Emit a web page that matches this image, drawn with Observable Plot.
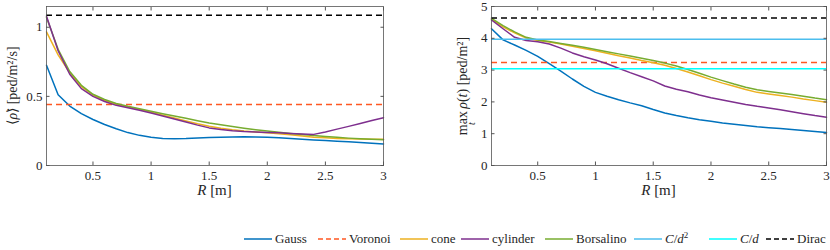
<!DOCTYPE html>
<html><head><meta charset="utf-8">
<script src="https://cdn.jsdelivr.net/npm/d3@7"></script>
<script src="https://cdn.jsdelivr.net/npm/@observablehq/plot@0.6"></script>
<style>
body{margin:0;background:#fff;}
#wrap{position:relative;width:830px;height:250px;font-family:"Liberation Serif","Times New Roman",serif;color:#262626;overflow:hidden;}
.panel{position:absolute;top:0;}
#legend{position:absolute;top:229px;left:0;width:830px;height:20px;font-size:13px;}
.item{position:absolute;top:0;height:20px;display:flex;align-items:center;white-space:nowrap;}
.item svg{margin-right:3px;}
</style></head><body>
<div id="wrap"><div id="left" class="panel" style="left:0"></div><div id="right" class="panel" style="left:415px"></div><div id="legend"></div></div>
<script>
const R = [0.1,0.2,0.3,0.4,0.5,0.6,0.7,0.8,0.9,1.0,1.1,1.2,1.3,1.4,1.5,1.6,1.7,1.8,1.9,2.0,2.1,2.2,2.3,2.4,2.5,2.6,2.7,2.8,2.9,3.0];

// Left panel: <rho dot>
const gaussL = [0.725,0.512,0.43,0.375,0.333,0.297,0.266,0.238,0.218,0.204,0.196,0.193,0.195,0.199,0.202,0.205,0.207,0.208,0.207,0.205,0.2,0.195,0.19,0.185,0.181,0.176,0.171,0.166,0.161,0.155];
const coneL = [0.966,0.8,0.67,0.57,0.51,0.47,0.443,0.423,0.405,0.386,0.364,0.343,0.322,0.302,0.284,0.27,0.259,0.25,0.243,0.237,0.23,0.222,0.213,0.205,0.2,0.196,0.193,0.191,0.19,0.19];
const cylinderL = [1.08,0.83,0.66,0.556,0.5,0.463,0.435,0.418,0.4,0.38,0.358,0.336,0.314,0.292,0.272,0.26,0.252,0.246,0.242,0.239,0.236,0.232,0.228,0.225,0.243,0.263,0.283,0.304,0.325,0.346];
const borsalinoL = [1.07,0.84,0.68,0.58,0.515,0.477,0.448,0.428,0.41,0.392,0.375,0.358,0.341,0.324,0.307,0.294,0.282,0.27,0.259,0.249,0.24,0.232,0.224,0.217,0.21,0.204,0.198,0.193,0.189,0.186];
const voronoiL = 0.442;
const diracL = 1.087;

// Right panel: max_t rho(t)
const gaussR = [4.3,3.95,3.79,3.62,3.43,3.2,2.97,2.72,2.49,2.3,2.18,2.07,1.97,1.88,1.76,1.65,1.57,1.5,1.44,1.39,1.34,1.3,1.26,1.22,1.19,1.16,1.13,1.1,1.07,1.04];
const coneR = [4.6,4.36,4.17,4.01,3.93,3.88,3.82,3.75,3.68,3.61,3.53,3.45,3.38,3.3,3.23,3.15,3.05,2.94,2.82,2.7,2.59,2.49,2.39,2.3,2.25,2.2,2.15,2.09,2.04,1.99];
const cylinderR = [4.58,4.3,4.03,3.93,3.89,3.82,3.69,3.54,3.42,3.32,3.2,3.06,2.92,2.79,2.66,2.5,2.4,2.32,2.22,2.13,2.06,1.99,1.92,1.86,1.81,1.75,1.69,1.63,1.57,1.52];
const borsalinoR = [4.63,4.4,4.2,4.03,3.95,3.9,3.84,3.78,3.72,3.65,3.58,3.51,3.44,3.37,3.3,3.22,3.13,3.02,2.9,2.78,2.67,2.56,2.46,2.38,2.33,2.28,2.23,2.18,2.12,2.07];
const voronoiR = 3.24;
const cd2R = 3.97;
const cdR = 3.04;
const diracR = 4.64;

const xTicks = [0.5,1,1.5,2,2.5,3];
const yTicksL = [0,0.5,1];
const yTicksR = [0,1,2,3,4,5];

const colors = {Gauss:"#0072BD", Voronoi:"#FF5722", cone:"#EDB120", cylinder:"#7E2F8E", Borsalino:"#77AC30", Cd2:"#4DBEEE", Cd:"#00FFFF", Dirac:"#000000"};
const frameColor = "#555";
const dash = "6,4";
const serif = "'Liberation Serif','Times New Roman',serif";

function rows(arr){ return R.map((r,i)=>({R:r, v:arr[i]})); }

const tk = 3.5;
function axes(yTicks, yFmt){
  return [
    Plot.frame({stroke: frameColor, strokeWidth: 0.8}),
    Plot.axisX(xTicks, {tickSize: 0, tickPadding: 5, tickFormat: d => String(d), label: null, fill: "#262626"}),
    Plot.axisX(xTicks, {tickSize: tk, dy: -tk, tickFormat: () => "", label: null, stroke: frameColor}),
    Plot.axisX(xTicks, {anchor: "top", tickSize: tk, dy: tk, tickFormat: () => "", label: null, stroke: frameColor}),
    Plot.axisY(yTicks, {tickSize: 0, tickPadding: 4, tickFormat: yFmt, label: null, fill: "#262626"}),
    Plot.axisY(yTicks, {tickSize: tk, dx: tk, tickFormat: () => "", label: null, stroke: frameColor}),
    Plot.axisY(yTicks, {anchor: "right", tickSize: tk, dx: -tk, tickFormat: () => "", label: null, stroke: frameColor})
  ];
}
const style = {fontFamily: serif, fontSize: "13px", color: "#262626", background: "white", overflow: "visible"};
const lw = 1.5;

const left = Plot.plot({
  width: 415, height: 210,
  marginLeft: 46, marginRight: 32, marginTop: 6, marginBottom: 45,
  x: {domain: [0.1, 3]},
  y: {domain: [0, 1.15]},
  style,
  marks: [
    Plot.line(rows(gaussL), {x: "R", y: "v", stroke: colors.Gauss, strokeWidth: lw}),
    Plot.ruleY([voronoiL], {stroke: colors.Voronoi, strokeWidth: lw, strokeDasharray: dash}),
    Plot.line(rows(coneL), {x: "R", y: "v", stroke: colors.cone, strokeWidth: lw}),
    Plot.line(rows(borsalinoL), {x: "R", y: "v", stroke: colors.Borsalino, strokeWidth: lw}),
    Plot.line(rows(cylinderL), {x: "R", y: "v", stroke: colors.cylinder, strokeWidth: lw}),
    Plot.ruleY([diracL], {stroke: colors.Dirac, strokeWidth: lw, strokeDasharray: dash}),
    ...axes(yTicksL, d => String(d))
  ]
});

const right = Plot.plot({
  width: 415, height: 210,
  marginLeft: 76, marginRight: 4, marginTop: 6, marginBottom: 45,
  x: {domain: [0.1, 3]},
  y: {domain: [0, 5]},
  style,
  marks: [
    Plot.line(rows(gaussR), {x: "R", y: "v", stroke: colors.Gauss, strokeWidth: lw}),
    Plot.ruleY([voronoiR], {stroke: colors.Voronoi, strokeWidth: lw, strokeDasharray: dash}),
    Plot.line(rows(coneR), {x: "R", y: "v", stroke: colors.cone, strokeWidth: lw}),
    Plot.line(rows(cylinderR), {x: "R", y: "v", stroke: colors.cylinder, strokeWidth: lw}),
    Plot.line(rows(borsalinoR), {x: "R", y: "v", stroke: colors.Borsalino, strokeWidth: lw}),
    Plot.ruleY([cd2R], {stroke: colors.Cd2, strokeWidth: lw}),
    Plot.ruleY([cdR], {stroke: colors.Cd, strokeWidth: lw}),
    Plot.ruleY([diracR], {stroke: colors.Dirac, strokeWidth: lw, strokeDasharray: dash}),
    ...axes(yTicksR, d => String(d))
  ]
});

document.getElementById("left").appendChild(left);
document.getElementById("right").appendChild(right);

function xLabel(svg, cx){
  const t = d3.select(svg).append("text").attr("x", cx).attr("y", 195)
    .attr("text-anchor", "middle").attr("font-size", 15).attr("fill", "#262626").attr("font-family", serif);
  t.append("tspan").attr("font-style", "italic").text("R");
  t.append("tspan").text(" [m]");
}
xLabel(left, 214.5);
xLabel(right, 243.5);

// Left y label
{
  const t = d3.select(left).append("text").attr("transform", "translate(17,85.5) rotate(-90)")
    .attr("text-anchor", "middle").attr("font-size", 14).attr("fill", "#262626").attr("font-family", serif);
  t.append("tspan").text("\u27E8");
  t.append("tspan").attr("font-style", "italic").text("\u03C1\u0307");
  t.append("tspan").text("\u27E9 [ped/m\u00B2/s]");
}
// Right y label
{
  const t = d3.select(right).append("text").attr("transform", "translate(52,86) rotate(-90)")
    .attr("text-anchor", "middle").attr("font-size", 14).attr("fill", "#262626").attr("font-family", serif);
  t.append("tspan").text("max");
  t.append("tspan").attr("font-style", "italic").attr("font-size", 10).attr("dx", -14).attr("dy", 8).text("t");
  t.append("tspan").attr("dx", 10).attr("dy", -8).text(" ");
  t.append("tspan").attr("font-style", "italic").text("\u03C1");
  t.append("tspan").text("(");
  t.append("tspan").attr("font-style", "italic").text("t");
  t.append("tspan").text(") [ped/m\u00B2]");
}

// Legend
const legendItems = [
  {x: 244, label: "Gauss", color: colors.Gauss, dash: null},
  {x: 318, label: "Voronoi", color: colors.Voronoi, dash: "5,3"},
  {x: 400, label: "cone", color: colors.cone, dash: null},
  {x: 461, label: "cylinder", color: colors.cylinder, dash: null},
  {x: 545, label: "Borsalino", color: colors.Borsalino, dash: null},
  {x: 634, label: "<i>C</i>/<i>d</i><sup style='font-size:9px'>2</sup>", color: colors.Cd2, dash: null},
  {x: 709, label: "<i>C</i>/<i>d</i>", color: colors.Cd, dash: null},
  {x: 766, label: "Dirac", color: colors.Dirac, dash: "5,3"}
];
const lg = document.getElementById("legend");
for (const it of legendItems) {
  const d = document.createElement("div");
  d.className = "item";
  d.style.left = it.x + "px";
  d.innerHTML = `<svg width="28" height="4"><line x1="0" y1="2" x2="28" y2="2" stroke="${it.color}" stroke-width="1.5" ${it.dash ? `stroke-dasharray="${it.dash}"` : ""}/></svg><span>${it.label}</span>`;
  lg.appendChild(d);
}
</script>
</body></html>
